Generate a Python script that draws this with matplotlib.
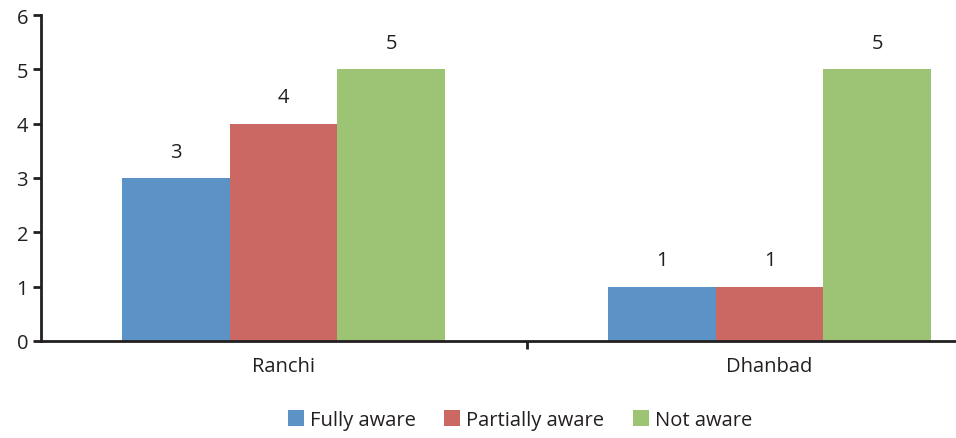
import numpy as np
import matplotlib.pyplot as plt

plt.rcParams['font.family'] = ['Open Sans', 'DejaVu Sans']

# data
cities = ["Ranchi", "Dhanbad"]
series = ["Fully aware", "Partially aware", "Not aware"]
fully = [3, 1]
partially = [4, 1]
not_aware = [5, 5]
colors = ["#5B93C7", "#CB6864", "#9DC375"]
txt = "#231F20"
fs = 14.5

fig = plt.figure(figsize=(9.56, 4.39), dpi=100)
ax = fig.add_axes([40.5 / 956, 97 / 439, 972 / 956, 326 / 439])

x = np.arange(len(cities))
w = 0.222
for i, (vals, name) in enumerate(zip([fully, partially, not_aware], series)):
    pos = x + (i - 1) * w
    bars = ax.bar(pos, vals, width=w, color=colors[i], label=name, zorder=2)
    for b, v in zip(bars, vals):
        ax.text(b.get_x() + b.get_width() / 2, v + 0.3, str(v),
                ha="center", va="bottom", fontsize=fs, color=txt)

ax.set_xlim(-0.5, 1.5)
ax.set_ylim(0, 6)
ax.set_yticks(range(7))
ax.set_xticks(x)
ax.set_xticklabels(cities)
ax.set_xticks([0.5], minor=True)
ax.tick_params(axis="x", which="major", length=0, labelsize=fs, labelcolor=txt, pad=11)
ax.tick_params(axis="x", which="minor", length=6, width=2, color=txt, direction="out")
ax.tick_params(axis="y", length=6, width=2, color=txt, labelsize=fs, labelcolor=txt, pad=3)
for s in ["top", "right"]:
    ax.spines[s].set_visible(False)
for s in ["left", "bottom"]:
    ax.spines[s].set_linewidth(2)
    ax.spines[s].set_color(txt)

fig.legend(loc="center", bbox_to_anchor=(520 / 956, 1 - 421 / 439), ncol=3,
           frameon=False, fontsize=fs, handlelength=0.8, handleheight=0.8,
           handletextpad=0.3, columnspacing=1.4, labelcolor=txt)

fig.savefig("out.png", dpi=100)
